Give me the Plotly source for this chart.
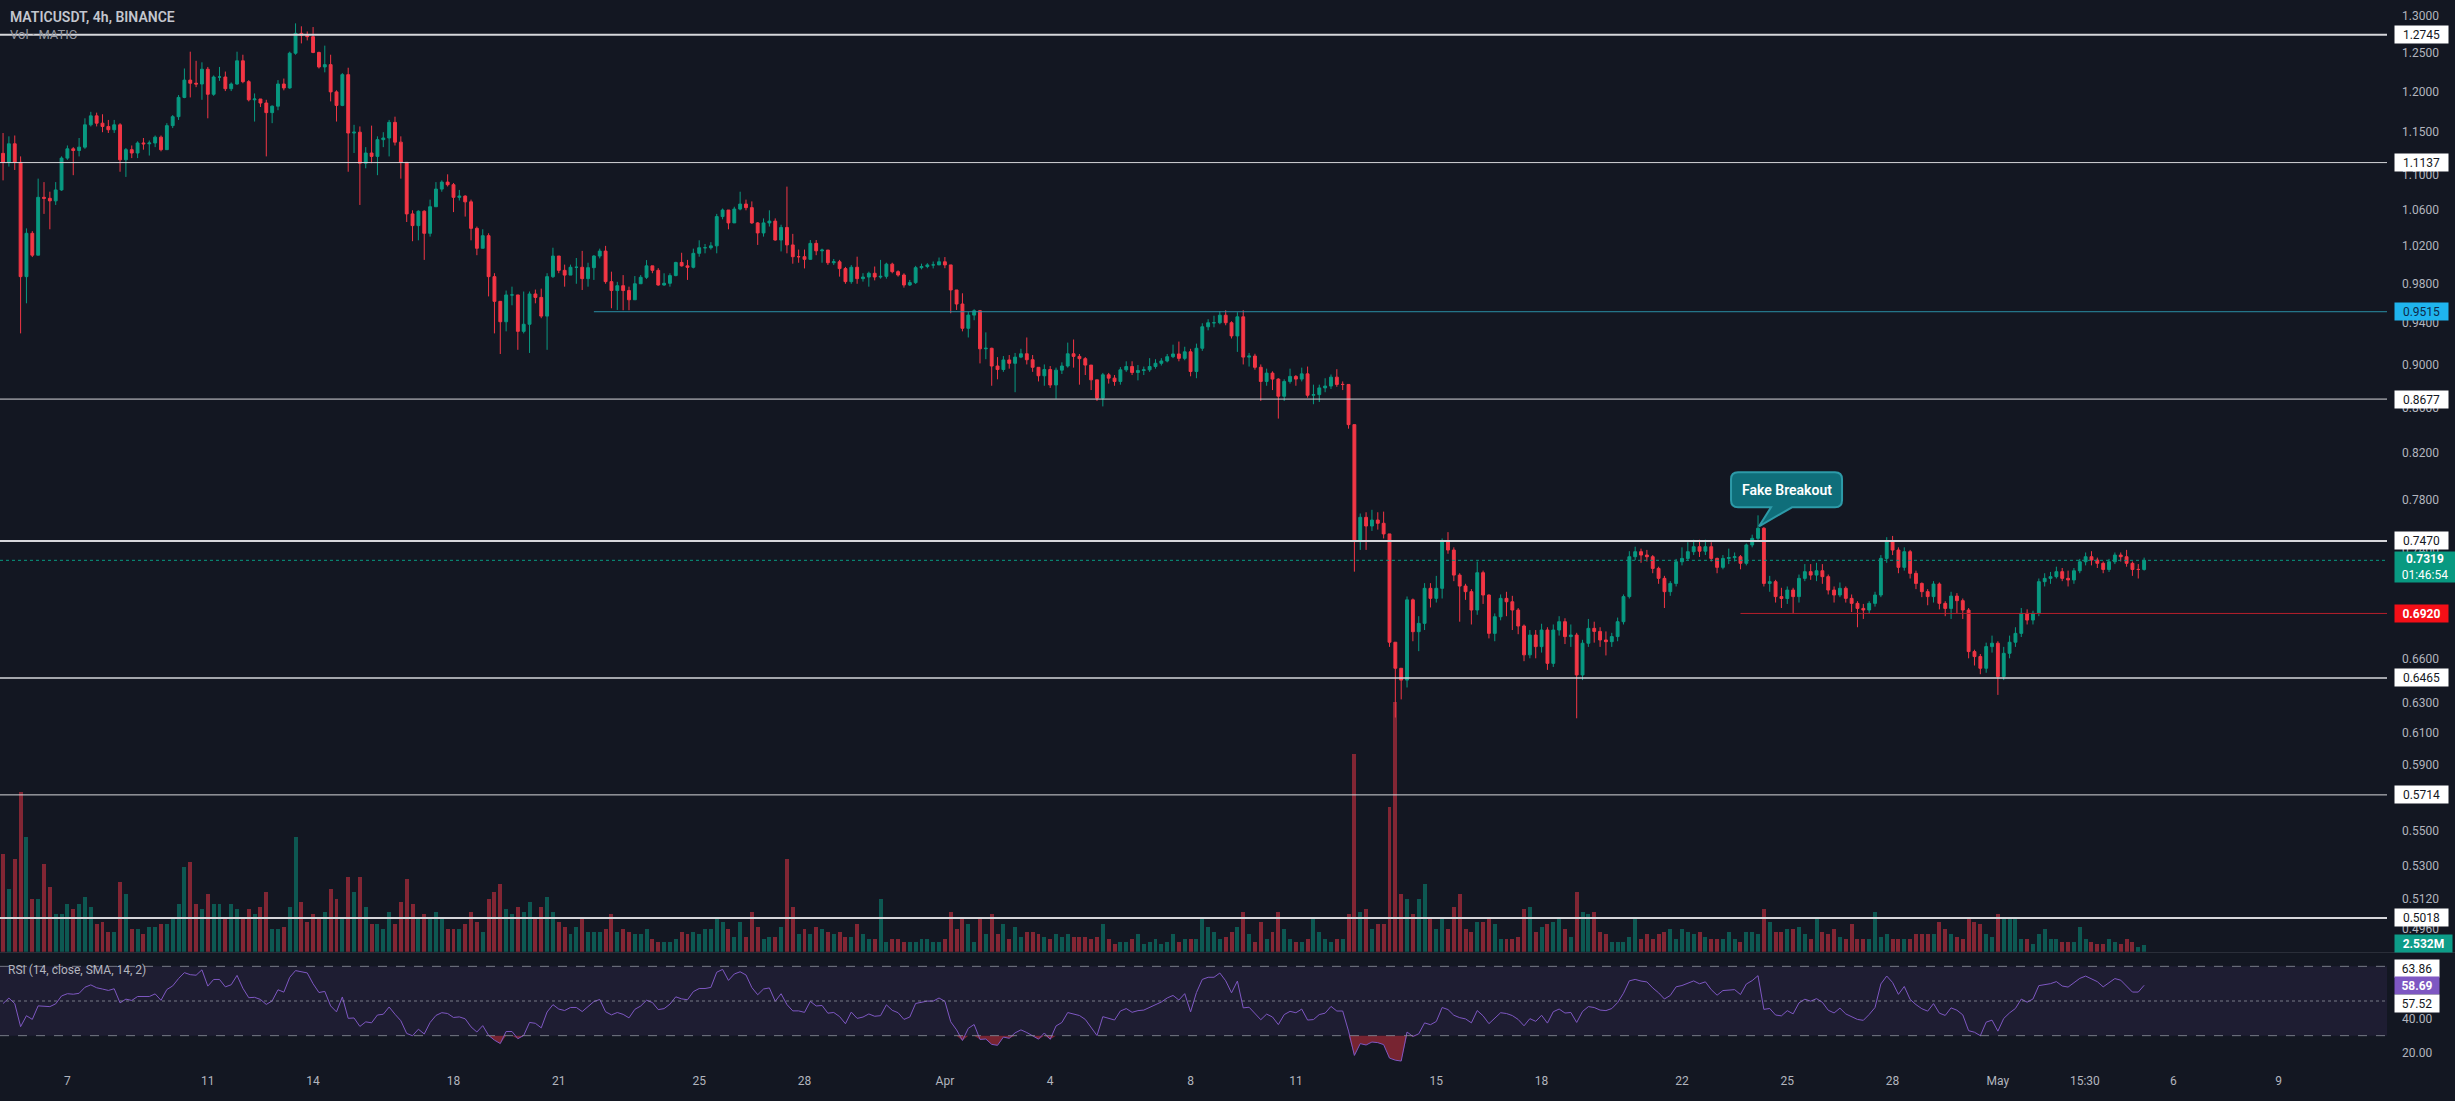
import numpy as np
import pandas as pd
import plotly.graph_objects as go

# ---------------- DATA ----------------
first_open = 1.1246
close = [
1.114,1.136,1.114,0.9874,1.0336,1.010,1.0736,1.0725,1.0696,1.082,
1.119,1.130,1.128,1.132,1.159,1.170,1.161,1.157,1.153,1.159,
1.117,1.129,1.125,1.137,1.136,1.137,1.144,1.129,1.158,1.169,
1.193,1.215,1.211,1.210,1.229,1.197,1.219,1.219,1.204,1.210,
1.240,1.213,1.190,1.191,1.186,1.174,1.182,1.210,1.205,1.250,
1.2765,1.274,1.272,1.251,1.232,1.235,1.200,1.183,1.222,1.149,
1.150,1.113,1.125,1.121,1.141,1.143,1.162,1.138,1.114,1.055,
1.042,1.058,1.0336,1.063,1.083,1.091,1.088,1.0736,1.075,1.0685,
1.039,1.0174,1.031,0.9874,0.962,0.9415,0.9685,0.9685,0.932,0.939,
0.9695,0.966,0.9471,0.9874,1.0091,0.994,0.989,0.9972,0.9972,0.9853,
0.9968,1.0091,1.0144,0.9822,0.973,0.978,0.973,0.9636,0.980,0.9867,
0.9987,0.994,0.9787,0.9805,0.9885,1.0023,0.9987,0.9972,1.012,1.018,
1.018,1.020,1.052,1.0593,1.045,1.0604,1.066,1.062,1.045,1.034,
1.045,1.047,1.0263,1.040,1.021,1.0084,1.0084,1.0056,1.0227,1.0147,
1.0155,1.002,1.003,0.9958,0.9822,0.9972,0.9853,0.987,0.9909,0.987,
0.9877,1.0005,0.9926,0.9891,0.9787,0.9812,0.9968,0.998,0.9997,0.9997,
1.003,0.9997,0.9736,0.9593,0.935,0.9481,0.9525,0.915,0.9155,0.8985,
0.8952,0.9043,0.9011,0.9070,0.9102,0.9045,0.8973,0.8893,0.8952,0.8807,
0.8946,0.8985,0.9102,0.9077,0.9055,0.8994,0.8855,0.8685,0.8902,0.8871,
0.884,0.8949,0.898,0.8924,0.8943,0.8949,0.898,0.9011,0.9033,0.9074,
0.910,0.9058,0.9121,0.8933,0.9155,0.9365,0.9405,0.9405,0.948,0.9405,
0.9275,0.9464,0.9070,0.9080,0.8973,0.884,0.8918,0.8862,0.8703,0.884,
0.8887,0.8862,0.8911,0.8712,0.8718,0.878,0.8797,0.8880,0.8812,0.8812,
0.8446,0.7466,0.7659,0.7589,0.7637,0.7611,0.7526,0.6713,0.6531,0.6450,
0.7020,0.6788,0.6848,0.7106,0.7031,0.7106,0.7465,0.7399,0.7206,0.7123,
0.7081,0.6945,0.7224,0.7056,0.6776,0.6896,0.7031,0.7006,0.6945,0.6829,
0.6624,0.6764,0.6682,0.6800,0.6565,0.6800,0.6860,0.6753,0.6764,0.6485,
0.6706,0.6812,0.6790,0.6729,0.6717,0.6753,0.6860,0.7044,0.7347,0.7386,
0.7360,0.7347,0.7257,0.7181,0.7081,0.7143,0.7308,0.7334,0.7386,0.7425,
0.7390,0.7425,0.7334,0.7265,0.7334,0.7340,0.7347,0.7296,0.7439,0.7491,
0.7571,0.7143,0.7156,0.7044,0.7030,0.7093,0.7044,0.7181,0.7232,0.7206,
0.7239,0.7194,0.7093,0.7056,0.7106,0.7031,0.6994,0.6957,0.6945,0.6994,
0.7056,0.7334,0.7465,0.7399,0.7265,0.7386,0.7219,0.7143,0.7081,0.7044,
0.7138,0.6994,0.6957,0.7048,0.7014,0.6945,0.6647,0.6612,0.6531,0.6682,
0.6706,0.6474,0.6635,0.6713,0.6776,0.6921,0.6872,0.6921,0.7156,0.7181,
0.7194,0.7232,0.7181,0.7169,0.7239,0.7308,0.7347,0.7321,0.7296,0.7249,
0.7308,0.7360,0.7347,0.7296,0.7249,0.7249,0.7319]
high = [
1.149,1.145,1.146,1.121,1.039,1.036,1.095,1.091,1.080,1.091,
1.121,1.134,1.132,1.143,1.167,1.175,1.174,1.172,1.165,1.165,
1.161,1.131,1.134,1.139,1.143,1.140,1.146,1.146,1.161,1.171,
1.196,1.230,1.252,1.240,1.238,1.232,1.221,1.232,1.226,1.212,
1.252,1.248,1.215,1.198,1.191,1.190,1.183,1.215,1.217,1.252,
1.290,1.286,1.279,1.285,1.252,1.260,1.248,1.202,1.224,1.231,
1.159,1.157,1.132,1.158,1.145,1.150,1.165,1.169,1.145,1.114,
1.059,1.059,1.059,1.071,1.091,1.093,1.100,1.090,1.082,1.076,
1.071,1.041,1.038,1.0336,0.991,0.962,0.973,0.977,0.9685,0.972,
0.972,0.974,0.975,0.991,1.018,1.008,1.000,1.000,1.007,1.0146,
1.002,1.010,1.017,1.020,0.9926,0.982,0.989,0.977,0.988,0.989,
1.0048,0.9987,0.9963,0.9909,0.9909,1.003,1.0126,1.005,1.017,1.026,
1.022,1.024,1.055,1.061,1.0593,1.063,1.080,1.071,1.069,1.046,
1.050,1.059,1.050,1.043,1.0858,1.033,1.016,1.016,1.0263,1.0263,
1.017,1.0155,1.006,1.005,0.9976,0.9995,1.0084,0.991,0.9926,0.998,
1.005,1.002,1.002,0.994,0.9909,0.984,0.9987,1.001,1.0015,1.0033,
1.0075,1.008,0.9997,0.9736,0.9702,0.9515,0.954,0.9533,0.931,0.916,
0.907,0.908,0.909,0.911,0.915,0.926,0.909,0.897,0.900,0.8985,
0.897,0.902,0.921,0.924,0.910,0.907,0.8994,0.885,0.892,0.892,
0.890,0.8975,0.903,0.903,0.8995,0.898,0.906,0.905,0.906,0.910,
0.919,0.922,0.917,0.915,0.920,0.940,0.944,0.9475,0.952,0.953,
0.942,0.951,0.953,0.911,0.9102,0.900,0.896,0.8935,0.887,0.886,
0.896,0.890,0.897,0.898,0.881,0.881,0.887,0.8905,0.8955,0.884,
0.8812,0.8446,0.769,0.770,0.772,0.770,0.7705,0.7526,0.6713,0.6530,
0.7045,0.7030,0.690,0.7145,0.7145,0.7200,0.7490,0.7540,0.742,0.722,
0.7140,0.7100,0.7310,0.7240,0.7060,0.692,0.706,0.708,0.705,0.696,
0.684,0.680,0.6800,0.6845,0.6820,0.6840,0.6900,0.6885,0.684,0.6780,
0.673,0.6880,0.6860,0.6820,0.679,0.678,0.689,0.706,0.739,0.7425,
0.7410,0.7400,0.7360,0.7270,0.7200,0.716,0.733,0.7420,0.7460,0.7480,
0.7480,0.7480,0.7460,0.7340,0.7360,0.7410,0.7380,0.7360,0.7450,0.7520,
0.7675,0.7580,0.7200,0.7170,0.7110,0.712,0.7110,0.7210,0.7290,0.7290,
0.7300,0.7290,0.7210,0.7120,0.7150,0.7120,0.7060,0.7010,0.6990,0.701,
0.708,0.736,0.7500,0.7510,0.7420,0.7420,0.7400,0.7240,0.7150,0.7100,
0.7160,0.7150,0.7010,0.7080,0.7070,0.7030,0.6960,0.6660,0.6630,0.6710,
0.6760,0.6720,0.668,0.6760,0.6820,0.6960,0.6950,0.6940,0.7180,0.7220,
0.7230,0.7270,0.7260,0.7240,0.7260,0.7330,0.7380,0.7390,0.7340,0.7310,
0.7330,0.7380,0.7380,0.7400,0.7310,0.7290,0.7340]
low = [
1.093,1.109,1.105,0.930,0.960,1.008,1.010,1.055,1.038,1.065,
1.081,1.117,1.099,1.121,1.130,1.157,1.157,1.150,1.149,1.149,
1.103,1.097,1.119,1.119,1.129,1.122,1.132,1.127,1.129,1.155,
1.165,1.192,1.193,1.206,1.190,1.167,1.195,1.214,1.201,1.201,
1.209,1.211,1.188,1.163,1.181,1.121,1.161,1.177,1.202,1.204,
1.248,1.263,1.267,1.250,1.230,1.225,1.188,1.163,1.182,1.103,
1.125,1.065,1.107,1.113,1.099,1.132,1.121,1.134,1.095,1.046,
1.025,1.026,1.005,1.030,1.063,1.080,1.086,1.057,1.070,1.052,
1.026,1.010,1.0174,0.967,0.930,0.910,0.932,0.958,0.914,0.930,
0.911,0.960,0.945,0.914,0.986,0.991,0.977,0.991,0.980,0.9736,
0.977,0.984,1.0066,0.980,0.955,0.9533,0.953,0.953,0.9685,0.980,
0.985,0.991,0.978,0.9780,0.977,0.9878,0.998,0.984,0.996,1.0084,
1.012,1.016,1.012,1.049,1.038,1.045,1.059,1.059,1.044,1.021,
1.030,1.041,1.0256,1.014,1.012,1.001,1.002,0.996,1.0066,1.010,
1.002,0.9997,0.9997,0.9874,0.980,0.980,0.980,0.9822,0.977,0.9835,
0.9853,0.9853,0.9909,0.9874,0.976,0.9777,0.9798,0.995,0.9962,0.9960,
0.9997,0.9962,0.950,0.9533,0.932,0.926,0.943,0.901,0.905,0.880,
0.886,0.893,0.896,0.874,0.906,0.900,0.893,0.884,0.880,0.878,
0.868,0.891,0.897,0.897,0.881,0.890,0.876,0.866,0.861,0.882,
0.880,0.881,0.893,0.890,0.885,0.890,0.893,0.896,0.899,0.902,
0.906,0.903,0.904,0.8888,0.887,0.913,0.933,0.936,0.939,0.938,
0.925,0.912,0.900,0.898,0.895,0.866,0.880,0.876,0.850,0.866,
0.882,0.880,0.884,0.869,0.863,0.865,0.874,0.877,0.879,0.876,
0.841,0.7232,0.740,0.740,0.755,0.756,0.749,0.668,0.620,0.632,
0.640,0.672,0.665,0.680,0.6964,0.700,0.703,0.737,0.716,0.686,
0.702,0.684,0.691,0.699,0.674,0.672,0.687,0.690,0.680,0.677,
0.658,0.660,0.660,0.664,0.652,0.654,0.676,0.670,0.668,0.6195,
0.645,0.668,0.671,0.668,0.662,0.668,0.672,0.684,0.703,0.732,
0.730,0.731,0.722,0.714,0.696,0.705,0.712,0.728,0.732,0.736,
0.7345,0.736,0.731,0.7220,0.725,0.729,0.731,0.725,0.728,0.742,
0.747,0.712,0.708,0.700,0.696,0.699,0.692,0.700,0.716,0.717,
0.716,0.714,0.706,0.700,0.704,0.700,0.693,0.682,0.688,0.692,
0.697,0.704,0.730,0.736,0.722,0.724,0.718,0.710,0.704,0.698,
0.700,0.695,0.690,0.688,0.692,0.688,0.660,0.655,0.6490,0.650,
0.664,0.6350,0.645,0.660,0.668,0.675,0.684,0.684,0.690,0.712,
0.714,0.718,0.716,0.712,0.714,0.722,0.728,0.728,0.726,0.7220,
0.723,0.729,0.731,0.727,0.7200,0.718,0.7240]
volume_m = [
39,25,37,64,46,21,21,35,26,15, 15,19,17,19,22,18,11,12,8,8,
28,23,9,9,7,10,10,11,11,13, 19,34,36,19,17,23,19,19,13,19,
17,13,17,15,18,24,9,9,10,18, 46,20,12,15,13,16,25,21,13,30,
24,30,18,11,11,9,16,11,20,29, 19,13,15,14,16,13,9,9,9,11,
16,12,8,21,24,27,17,15,18,16, 20,13,18,22,16,12,10,7,10,14,
8,8,8,9,15,8,9,8,7,7, 9,5,4,4,4,5,8,7,8,7,
9,9,13,12,9,6,12,6,16,10, 5,6,6,10,37,18,7,9,7,10,
9,8,7,8,6,6,11,7,5,5, 21,4,5,5,4,4,4,5,5,4,
4,5,16,9,14,11,4,14,7,15, 7,11,5,10,6,8,8,7,6,5,
7,6,7,6,6,6,5,6,11,5, 3,4,4,5,7,3,4,5,3,4,
7,4,5,5,5,14,10,8,5,6, 8,10,16,7,4,12,5,8,16,9,
5,4,4,5,13,8,5,4,5,5, 15,79,16,17,9,11,11,58,100,23,
21,15,21,27,13,9,14,9,18,23, 9,8,12,12,13,11,5,5,5,6,
17,18,8,10,11,12,13,9,6,24, 16,15,16,8,7,4,4,4,6,14,
5,7,5,7,8,9,5,9,8,7, 8,6,5,5,5,8,5,4,8,8,
7,17,12,8,8,9,9,10,7,5, 13,8,7,9,6,5,11,5,5,5,
16,6,7,5,5,5,5,7,7,7, 7,12,9,7,6,5,13,12,11,7,
6,15,14,13,14,5,5,3,7,9, 5,5,4,4,4,10,5,4,3,3,
5,4,3,5,4,2,2.532]

candle_start = "2024-03-05 04:00"
x_ticks = ["2024-03-07","2024-03-11","2024-03-14","2024-03-18","2024-03-21","2024-03-25",
           "2024-03-28","2024-04-01","2024-04-04","2024-04-08","2024-04-11","2024-04-15",
           "2024-04-18","2024-04-22","2024-04-25","2024-04-28","2024-05-01","2024-05-03 11:30",
           "2024-05-06","2024-05-09"]
x_ticktext = ["7","11","14","18","21","25","28","Apr","4","8","11","15","18","22","25","28",
              "May","15:30","6","9"]
price_ticks = [1.30,1.25,1.20,1.15,1.10,1.06,1.02,0.98,0.94,0.90,0.86,0.82,0.78,0.74,
               0.66,0.63,0.61,0.59,0.55,0.53,0.512,0.496]
rsi_ticks = [20, 40, 60]
white_levels = [1.2745, 1.1137, 0.8677, 0.7470, 0.6465, 0.5714, 0.5018]
white_widths = [2, 1, 1, 2, 1.5, 1, 2]
blue_level = 0.9515
red_level = 0.6920
last_price = 0.7319
countdown = "01:46:54"
rsi_labels = [63.86, 58.69, 57.52]

# ---------------- STYLE / GEOMETRY ----------------
W, H = 2455, 1101
PLOT_W = 2387
PANE_BOT = 951.7
RSI_TOP, RSI_BOT = 953.0, 1064.0
BG = "#131722"
UP, DN = "#089981", "#F23645"
TXT = "#B2B5BE"
FONT = "Roboto, Arial, sans-serif"

dates = pd.date_range(candle_start, periods=len(close), freq="4h")
x0 = pd.Timestamp("2024-03-05 01:55")
x1 = pd.Timestamp("2024-05-12 02:04")
ylog_top = np.log10(1.3222)
ylog_bot = np.log10(0.48424)
vol_px = 0.4  # million per pixel

n = len(close)
opens = [first_open] + close[:-1]
highs = [max(h, o, c) for h, o, c in zip(high, opens, close)]
lows = [min(l, o, c) for l, o, c in zip(low, opens, close)]
vol_colors = ["rgba(8,153,129,0.5)" if c >= o else "rgba(242,54,69,0.5)" for o, c in zip(opens, close)]

# RSI (Wilder, length 14) from the closes; averages seeded neutrally from the first changes
c = np.array(close)
d = np.diff(c, prepend=first_open)
gain = np.clip(d, 0, None)
loss = np.clip(-d, 0, None)
L = 14
seed = np.abs(d[:L]).mean() / 2
ag = np.zeros(n); al = np.zeros(n)
pg, pl = seed, seed
for k in range(n):
    pg = (pg*(L-1) + gain[k]) / L
    pl = (pl*(L-1) + loss[k]) / L
    ag[k], al[k] = pg, pl
rsi = 100 - 100/(1 + ag/al)

fig = go.Figure()
# volume (base axis)
fig.add_trace(go.Bar(x=dates, y=volume_m, marker=dict(color=vol_colors, line=dict(width=0)),
                     width=4*3600*1000*0.68, xaxis="x", yaxis="y", hoverinfo="skip"))
# horizontal level lines (price axis)
for lv, lw in zip(white_levels, white_widths):
    fig.add_trace(go.Scatter(x=[x0, x1], y=[lv, lv], mode="lines",
                             line=dict(color="#d6d7db", width=lw), xaxis="x", yaxis="y2", hoverinfo="skip"))
fig.add_trace(go.Scatter(x=[dates[101], x1], y=[blue_level, blue_level], mode="lines",
                         line=dict(color="#2a8fa6", width=1), xaxis="x", yaxis="y2", hoverinfo="skip"))
fig.add_trace(go.Scatter(x=[dates[297], x1], y=[red_level, red_level], mode="lines",
                         line=dict(color="#b51f2b", width=1), xaxis="x", yaxis="y2", hoverinfo="skip"))
fig.add_trace(go.Scatter(x=[x0, x1], y=[last_price, last_price], mode="lines",
                         line=dict(color=UP, width=1, dash="dot"), xaxis="x", yaxis="y2", hoverinfo="skip"))
# candles
fig.add_trace(go.Candlestick(x=dates, open=opens, high=highs, low=lows, close=close,
                             increasing=dict(line=dict(color=UP, width=1), fillcolor=UP),
                             decreasing=dict(line=dict(color=DN, width=1), fillcolor=DN),
                             whiskerwidth=0, xaxis="x", yaxis="y2", hoverinfo="skip"))
# RSI pane
rsi_lo = np.minimum(rsi, 30)
rsi_hi = np.maximum(rsi, 70)
fig.add_trace(go.Scatter(x=dates, y=[30]*n, mode="lines", line=dict(width=0), xaxis="x2", yaxis="y3", hoverinfo="skip"))
fig.add_trace(go.Scatter(x=dates, y=rsi_lo, mode="lines", line=dict(width=0), fill="tonexty",
                         fillcolor="rgba(242,54,69,0.45)", xaxis="x2", yaxis="y3", hoverinfo="skip"))
fig.add_trace(go.Scatter(x=dates, y=[70]*n, mode="lines", line=dict(width=0), xaxis="x2", yaxis="y3", hoverinfo="skip"))
fig.add_trace(go.Scatter(x=dates, y=rsi_hi, mode="lines", line=dict(width=0), fill="tonexty",
                         fillcolor="rgba(8,153,129,0.45)", xaxis="x2", yaxis="y3", hoverinfo="skip"))
fig.add_trace(go.Scatter(x=dates, y=rsi, mode="lines", line=dict(color="#7E57C2", width=1),
                         xaxis="x2", yaxis="y3", hoverinfo="skip"))

xr = PLOT_W / W
pane_dom = [1 - PANE_BOT/H, 1]
rsi_dom = [1 - RSI_BOT/H, 1 - RSI_TOP/H]
rsi_top_v = 50 + (1001 - RSI_TOP)/1.733
rsi_bot_v = 50 - (RSI_BOT - 1001)/1.733

shapes = []
# RSI band & dashed levels
shapes.append(dict(type="rect", xref="x2", yref="y3", x0=x0, x1=x1, y0=30, y1=70,
                   fillcolor="rgba(126,87,194,0.1)", line=dict(width=0), layer="below"))
for lv, ds in [(70, "dash"), (50, "dot"), (30, "dash")]:
    shapes.append(dict(type="line", xref="x2", yref="y3", x0=x0, x1=x1, y0=lv, y1=lv,
                       line=dict(color="rgba(150,153,164,0.75)", width=1, dash=ds)))
# pane separator
shapes.append(dict(type="line", xref="paper", yref="paper", x0=0, x1=1,
                   y0=1 - (PANE_BOT + 0.8)/H, y1=1 - (PANE_BOT + 0.8)/H,
                   line=dict(color="#2a2e39", width=1)))

# callout "Fake Breakout" anchored on candle 300
def px_x(t):
    return (pd.Timestamp(t) - x0) / (x1 - x0) * PLOT_W
def px_y(p):
    return (ylog_top - np.log10(p)) / (ylog_top - ylog_bot) * PANE_BOT
tx, ty = px_x(dates[300]) + 1, px_y(close[300]) - 2
l, r, t, b = tx - 28, tx + 83, ty - 54, ty - 19
rad = 7
def P(x, y):
    return f"{x/W:.6f},{1 - y/H:.6f}"
path = (f"M {P(l+rad,t)} L {P(r-rad,t)} Q {P(r,t)} {P(r,t+rad)} L {P(r,b-rad)} Q {P(r,b)} {P(r-rad,b)} "
        f"L {P(tx+33,b)} L {P(tx,ty)} L {P(tx+12,b)} L {P(l+rad,b)} Q {P(l,b)} {P(l,b-rad)} "
        f"L {P(l,t+rad)} Q {P(l,t)} {P(l+rad,t)} Z")
shapes.append(dict(type="path", xref="paper", yref="paper", path=path,
                   fillcolor="#0f6e7a", line=dict(color="#2d9aa8", width=2)))

ann = []
ann.append(dict(xref="paper", yref="paper", x=(l + r)/2/W, y=1 - (t + b)/2/H, text="Fake Breakout",
                xanchor="center", yanchor="middle", showarrow=False,
                font=dict(family=FONT, size=14, color="#ffffff", weight=600)))
# legend texts
ann.append(dict(xref="paper", yref="paper", x=8/W, y=1 - 17/H, xanchor="left", yanchor="middle",
                text="MATICUSDT, 4h, BINANCE", showarrow=False,
                font=dict(family=FONT, size=14, color="#C3C6CE", weight=600)))
ann.append(dict(xref="paper", yref="paper", x=8/W, y=1 - 34/H, xanchor="left", yanchor="middle",
                text="Vol · MATIC", showarrow=False, font=dict(family=FONT, size=13, color="#9598A1")))
ann.append(dict(xref="paper", yref="paper", x=6/W, y=1 - 970/H, xanchor="left", yanchor="middle",
                text="RSI (14, close, SMA, 14, 2)", showarrow=False, font=dict(family=FONT, size=12, color="#B2B5BE")))

LBL_X = 2393.6 / W
def axis_box(val, bg, fg, yref="y2", width=49, bold=False, text=None, height=13, yshift=0):
    yv = np.log10(val) if yref == "y2" else val
    return dict(xref="paper", yref=yref, x=LBL_X, y=yv, xanchor="left", yanchor="middle",
                text=text if text is not None else f"{val:.4f}", showarrow=False, bgcolor=bg,
                borderpad=2, width=width, height=height, align="center", yshift=yshift,
                font=dict(family=FONT, size=12, color=fg, weight=700 if bold else 400))
for lv in white_levels:
    ann.append(axis_box(lv, "#ffffff", "#131722"))
ann.append(axis_box(blue_level, "#1fb4ee", "#0d2a4a"))
ann.append(axis_box(red_level, "#f50f17", "#ffffff", bold=True))
ann.append(axis_box(last_price, UP, "#ffffff", width=56, height=26, yshift=-7,
                    text=f"<b>{last_price:.4f}</b><br>{countdown}"))
ann.append(axis_box(volume_m[-1], "#0d9c88", "#ffffff", yref="y", width=53, bold=True,
                    text=f"{volume_m[-1]:.3f}M", yshift=2))
ann.append(axis_box(rsi_labels[0], "#ffffff", "#131722", yref="y3", width=40, text=f"{rsi_labels[0]:.2f}", yshift=8))
ann.append(axis_box(rsi_labels[1], "#7E57C2", "#ffffff", yref="y3", width=40, bold=True, text=f"{rsi_labels[1]:.2f}"))
ann.append(axis_box(rsi_labels[2], "#ffffff", "#131722", yref="y3", width=40, text=f"{rsi_labels[2]:.2f}", yshift=-16))

fig.update_layout(
    width=W, height=H, margin=dict(l=0, r=0, t=0, b=0),
    paper_bgcolor=BG, plot_bgcolor=BG, showlegend=False, hovermode=False,
    bargap=0,
    xaxis=dict(domain=[0, xr], range=[x0, x1], anchor="y", showgrid=False, zeroline=False,
               showticklabels=False, rangeslider=dict(visible=False), showline=False),
    yaxis=dict(domain=pane_dom, range=[0, PANE_BOT*vol_px], visible=False, showgrid=False),
    yaxis2=dict(overlaying="y", anchor="x", type="log", range=[ylog_bot, ylog_top], side="right",
                tickmode="array", tickvals=price_ticks, ticktext=[f"{v:.4f}" for v in price_ticks],
                showgrid=False, zeroline=False, ticks="", ticklabelstandoff=14,
                tickfont=dict(family=FONT, size=12, color=TXT), showline=False),
    xaxis2=dict(domain=[0, xr], range=[x0, x1], anchor="y3", showgrid=False, zeroline=False,
                tickmode="array", tickvals=x_ticks, ticktext=x_ticktext, ticks="",
                ticklabelstandoff=8, tickfont=dict(family=FONT, size=12, color=TXT), showline=False),
    yaxis3=dict(domain=rsi_dom, anchor="x2", range=[rsi_bot_v, rsi_top_v], side="right",
                tickmode="array", tickvals=rsi_ticks, ticktext=[f"{v:.2f}" for v in rsi_ticks],
                showgrid=False, zeroline=False, ticks="", ticklabelstandoff=14,
                tickfont=dict(family=FONT, size=12, color=TXT), showline=False),
    shapes=shapes, annotations=ann,
)
fig.write_html("out.html", config={"displayModeBar": False})
